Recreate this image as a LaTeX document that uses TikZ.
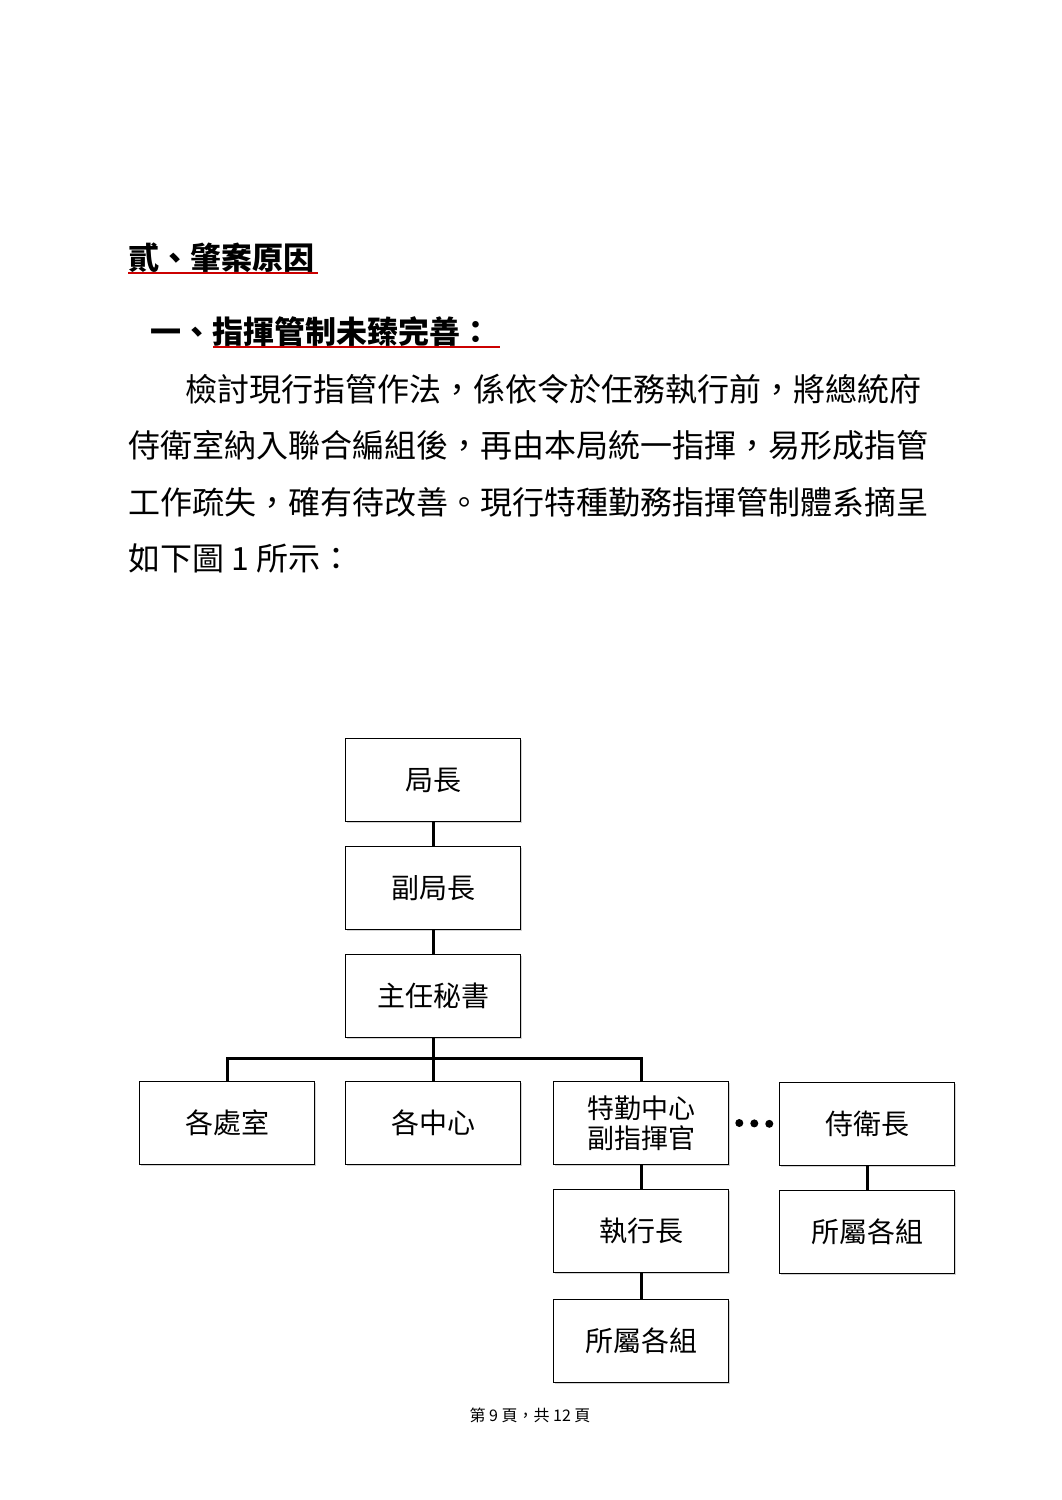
\documentclass[tikz,border=0pt]{standalone}
\usepackage{fontspec}
\setmainfont{Noto Sans CJK TC}
\usetikzlibrary{shadows}
\begin{document}
\begin{tikzpicture}[x=0.5pt,y=-0.5pt,
 box/.style={draw,line width=0.8pt,fill=white,minimum width=87.5pt,minimum height=41.5pt,font=\fontsize{14}{16}\selectfont,inner sep=0pt,align=center,drop shadow={opacity=0.35,shadow xshift=0.8pt,shadow yshift=-0.8pt}},
 ln/.style={line width=1.5pt},
 txt/.style={anchor=west,inner sep=0pt,font=\fontsize{16}{16}\selectfont}]
\useasboundingbox (0,0) rectangle (1061,1500);
\node[txt,font=\bfseries\fontsize{15.5}{16}\selectfont] (t1) at (128,258) {貳、肇案原因};
\draw[red!80!black,line width=1pt] (128,273) -- (318,273);
\node[txt,font=\bfseries\fontsize{15.5}{16}\selectfont] (t2) at (150,332) {一、指揮管制未臻完善：};
\draw[red!80!black,line width=1pt] (213,347) -- (500,347);
\node[txt] (p1) at (185,389) {檢討現行指管作法，係依令於任務執行前，將總統府};
\node[txt] (p2) at (128,445) {侍衛室納入聯合編組後，再由本局統一指揮，易形成指管};
\node[txt] (p3) at (128,502) {工作疏失，確有待改善。現行特種勤務指揮管制體系摘呈};
\node[txt] (p4) at (128,558) {如下圖 1 所示：};
% diagram
\node[box] (a) at (433,780) {局長};
\node[box] (b) at (433,888) {副局長};
\node[box] (c) at (433,996) {主任秘書};
\node[box] (d1) at (227,1123) {各處室};
\node[box] (d2) at (433,1123) {各中心};
\node[box,font=\fontsize{13.5}{15}\selectfont] (d3) at (641,1123) {特勤中心\\副指揮官};
\node[box] (d4) at (867,1124) {侍衛長};
\node[box] (e1) at (641,1231) {執行長};
\node[box] (e2) at (867,1232) {所屬各組};
\node[box] (f1) at (641,1341) {所屬各組};
\draw[ln] (a) -- (b);
\draw[ln] (b) -- (c);
\coordinate (bus) at (433,1058);
\draw[ln] (c) -- (bus);
\draw[ln] (d1.north) |- (bus) -| (d3.north);
\draw[ln] (bus) -- (d2);
\draw[ln] (d3) -- (e1);
\draw[ln] (e1) -- (f1);
\draw[ln] (d4) -- (e2);
\draw[line width=4pt,dash pattern=on 0pt off 7.5pt,line cap=round] ([xshift=5pt]d3.east) -- ([xshift=-1pt]d4.west);
\node[inner sep=0pt,font=\fontsize{8}{9}\selectfont] (ft) at (530,1415) {第 9 頁，共 12 頁};
\end{tikzpicture}
\end{document}
